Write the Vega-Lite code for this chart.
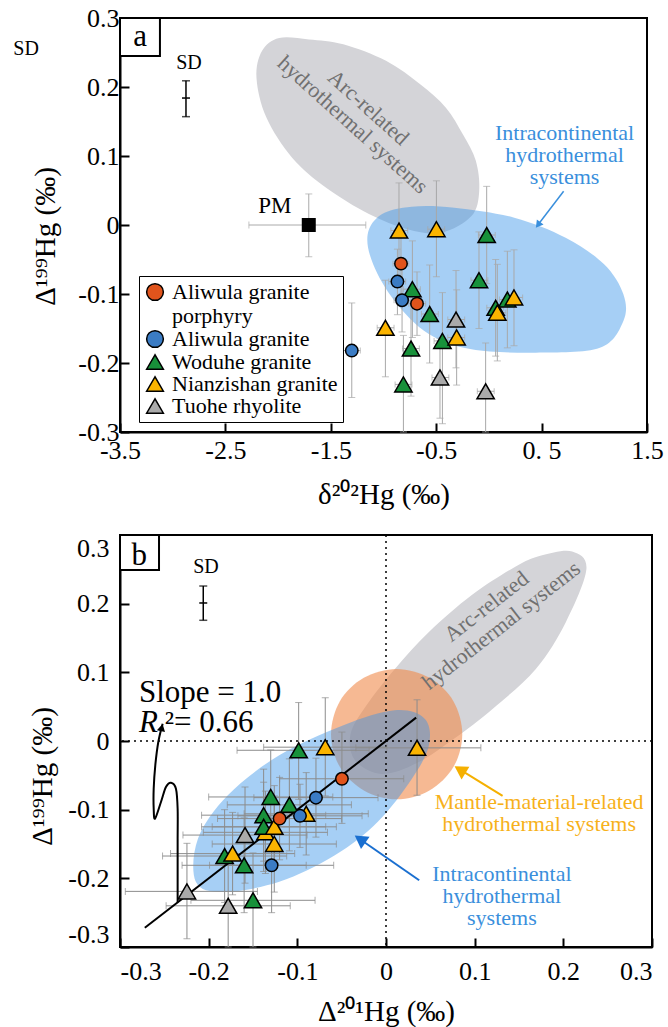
{
"$schema": "https://vega.github.io/schema/vega-lite/v6.json",
"background": "white",
"padding": {"left": 12, "top": 4, "right": 0, "bottom": 0},
"spacing": 23,
"config": {
  "font": "Liberation Serif",
  "view": {"stroke": "black", "strokeWidth": 2},
  "axis": {"grid": false, "labelFont": "Liberation Serif", "labelFontSize": 26, "labelColor": "black", "titleFont": "Liberation Serif", "titleFontSize": 29, "titleFontWeight": "normal", "titleColor": "black", "domainColor": "black", "domainWidth": 2, "tickColor": "black", "tickWidth": 2, "tickSize": -9},
  "text": {"font": "Liberation Serif"}
},
"resolve": {"legend": {"color": "independent", "shape": "independent"}},
"datasets": {
  "ptsA": [
    {"g": "Woduhe granite", "x": -0.021, "y": -0.0145, "xlo": -0.10, "xhi": 0.06, "ylo": -0.085, "yhi": 0.056},
    {"g": "Woduhe granite", "x": -0.094, "y": -0.080, "xlo": -0.17, "xhi": -0.01, "ylo": -0.15, "yhi": -0.01},
    {"g": "Woduhe granite", "x": -0.726, "y": -0.093, "xlo": -0.81, "xhi": -0.65, "ylo": -0.163, "yhi": -0.023},
    {"g": "Woduhe granite", "x": -0.562, "y": -0.129, "xlo": -0.64, "xhi": -0.48, "ylo": -0.20, "yhi": -0.058},
    {"g": "Woduhe granite", "x": -0.441, "y": -0.168, "xlo": -0.52, "xhi": -0.36, "ylo": -0.288, "yhi": -0.098},
    {"g": "Woduhe granite", "x": -0.739, "y": -0.179, "xlo": -0.82, "xhi": -0.66, "ylo": -0.248, "yhi": -0.11},
    {"g": "Woduhe granite", "x": -0.811, "y": -0.231, "xlo": -0.89, "xhi": -0.73, "ylo": -0.30, "yhi": -0.16},
    {"g": "Woduhe granite", "x": 0.175, "y": -0.108, "xlo": 0.10, "xhi": 0.25, "ylo": -0.178, "yhi": -0.038},
    {"g": "Woduhe granite", "x": 0.064, "y": -0.12, "xlo": -0.02, "xhi": 0.14, "ylo": -0.19, "yhi": -0.05},
    {"g": "Nianzishan granite", "x": -0.853, "y": -0.008, "xlo": -0.93, "xhi": -0.77, "ylo": -0.077, "yhi": 0.061},
    {"g": "Nianzishan granite", "x": -0.498, "y": -0.006, "xlo": -0.58, "xhi": -0.42, "ylo": -0.075, "yhi": 0.064},
    {"g": "Nianzishan granite", "x": -0.982, "y": -0.149, "xlo": -1.06, "xhi": -0.90, "ylo": -0.22, "yhi": -0.08},
    {"g": "Nianzishan granite", "x": -0.306, "y": -0.163, "xlo": -0.39, "xhi": -0.23, "ylo": -0.232, "yhi": -0.094},
    {"g": "Nianzishan granite", "x": 0.080, "y": -0.127, "xlo": 0.00, "xhi": 0.16, "ylo": -0.197, "yhi": -0.057},
    {"g": "Nianzishan granite", "x": 0.238, "y": -0.105, "xlo": 0.16, "xhi": 0.32, "ylo": -0.175, "yhi": -0.036},
    {"g": "Tuohe rhyolite", "x": -0.312, "y": -0.137, "xlo": -0.39, "xhi": -0.23, "ylo": -0.207, "yhi": -0.066},
    {"g": "Tuohe rhyolite", "x": -0.464, "y": -0.221, "xlo": -0.54, "xhi": -0.38, "ylo": -0.28, "yhi": -0.164},
    {"g": "Tuohe rhyolite", "x": -0.031, "y": -0.241, "xlo": -0.11, "xhi": 0.05, "ylo": -0.30, "yhi": -0.171},
    {"g": "Aliwula granite porphyry", "x": -0.834, "y": -0.056, "xlo": -0.91, "xhi": -0.76, "ylo": -0.10, "yhi": -0.012},
    {"g": "Aliwula granite porphyry", "x": -0.682, "y": -0.114, "xlo": -0.76, "xhi": -0.60, "ylo": -0.16, "yhi": -0.068},
    {"g": "Aliwula granite", "x": -0.868, "y": -0.082, "xlo": -0.95, "xhi": -0.79, "ylo": -0.13, "yhi": -0.035},
    {"g": "Aliwula granite", "x": -0.824, "y": -0.109, "xlo": -0.90, "xhi": -0.74, "ylo": -0.155, "yhi": -0.06},
    {"g": "Aliwula granite", "x": -1.301, "y": -0.182, "xlo": -1.38, "xhi": -1.22, "ylo": -0.25, "yhi": -0.113}
  ],
  "ptsB": [
    {"g": "Nianzishan granite", "x": -0.136, "y": -0.133, "xlo": -0.206, "xhi": -0.066, "ylo": -0.193, "yhi": -0.073},
    {"g": "Woduhe granite", "x": -0.0985, "y": -0.0135, "xlo": -0.168, "xhi": -0.019, "ylo": -0.085, "yhi": 0.056},
    {"g": "Woduhe granite", "x": -0.130, "y": -0.0815, "xlo": -0.20, "xhi": -0.06, "ylo": -0.15, "yhi": -0.013},
    {"g": "Woduhe granite", "x": -0.109, "y": -0.093, "xlo": -0.179, "xhi": -0.039, "ylo": -0.16, "yhi": -0.026},
    {"g": "Woduhe granite", "x": -0.138, "y": -0.108, "xlo": -0.208, "xhi": -0.068, "ylo": -0.175, "yhi": -0.041},
    {"g": "Woduhe granite", "x": -0.138, "y": -0.125, "xlo": -0.208, "xhi": -0.068, "ylo": -0.19, "yhi": -0.06},
    {"g": "Woduhe granite", "x": -0.182, "y": -0.1675, "xlo": -0.252, "xhi": -0.112, "ylo": -0.235, "yhi": -0.10},
    {"g": "Woduhe granite", "x": -0.160, "y": -0.181, "xlo": -0.23, "xhi": -0.09, "ylo": -0.25, "yhi": -0.112},
    {"g": "Woduhe granite", "x": -0.150, "y": -0.232, "xlo": -0.22, "xhi": -0.08, "ylo": -0.30, "yhi": -0.163},
    {"g": "Nianzishan granite", "x": -0.0685, "y": -0.009, "xlo": -0.138, "xhi": 0.001, "ylo": -0.08, "yhi": 0.063},
    {"g": "Nianzishan granite", "x": 0.035, "y": -0.010, "xlo": -0.034, "xhi": 0.107, "ylo": -0.079, "yhi": 0.060},
    {"g": "Nianzishan granite", "x": -0.090, "y": -0.106, "xlo": -0.16, "xhi": -0.02, "ylo": -0.166, "yhi": -0.046},
    {"g": "Nianzishan granite", "x": -0.126, "y": -0.125, "xlo": -0.196, "xhi": -0.056, "ylo": -0.185, "yhi": -0.065},
    {"g": "Nianzishan granite", "x": -0.126, "y": -0.150, "xlo": -0.196, "xhi": -0.056, "ylo": -0.22, "yhi": -0.08},
    {"g": "Nianzishan granite", "x": -0.173, "y": -0.164, "xlo": -0.243, "xhi": -0.103, "ylo": -0.224, "yhi": -0.104},
    {"g": "Tuohe rhyolite", "x": -0.159, "y": -0.137, "xlo": -0.229, "xhi": -0.089, "ylo": -0.207, "yhi": -0.067},
    {"g": "Tuohe rhyolite", "x": -0.2245, "y": -0.219, "xlo": -0.294, "xhi": -0.145, "ylo": -0.288, "yhi": -0.149},
    {"g": "Tuohe rhyolite", "x": -0.178, "y": -0.240, "xlo": -0.248, "xhi": -0.108, "ylo": -0.30, "yhi": -0.17},
    {"g": "Aliwula granite porphyry", "x": -0.0497, "y": -0.055, "xlo": -0.12, "xhi": 0.02, "ylo": -0.12, "yhi": 0.013},
    {"g": "Aliwula granite porphyry", "x": -0.120, "y": -0.113, "xlo": -0.19, "xhi": -0.05, "ylo": -0.173, "yhi": -0.053},
    {"g": "Aliwula granite", "x": -0.079, "y": -0.0825, "xlo": -0.149, "xhi": -0.009, "ylo": -0.14, "yhi": -0.025},
    {"g": "Aliwula granite", "x": -0.097, "y": -0.109, "xlo": -0.167, "xhi": -0.027, "ylo": -0.155, "yhi": -0.063},
    {"g": "Aliwula granite", "x": -0.129, "y": -0.181, "xlo": -0.199, "xhi": -0.059, "ylo": -0.25, "yhi": -0.112}
  ]
},
"vconcat": [
{
  "width": 527, "height": 414,
  "layer": [
    {
      "data": {"values": [
        {"i": 1, "x": -1.990, "y": 0.271}, {"i": 2, "x": -1.707, "y": 0.269}, {"i": 3, "x": -1.382, "y": 0.262},
        {"i": 4, "x": -0.976, "y": 0.238}, {"i": 5, "x": -0.652, "y": 0.204}, {"i": 6, "x": -0.408, "y": 0.170},
        {"i": 7, "x": -0.246, "y": 0.131}, {"i": 8, "x": -0.124, "y": 0.093}, {"i": 9, "x": -0.092, "y": 0.049},
        {"i": 10, "x": -0.165, "y": 0.013}, {"i": 11, "x": -0.449, "y": -0.011}, {"i": 12, "x": -0.773, "y": -0.006},
        {"i": 13, "x": -1.138, "y": 0.016}, {"i": 14, "x": -1.544, "y": 0.054}, {"i": 15, "x": -1.869, "y": 0.098},
        {"i": 16, "x": -2.112, "y": 0.156}, {"i": 17, "x": -2.205, "y": 0.213}, {"i": 18, "x": -2.153, "y": 0.252}
      ]},
      "mark": {"type": "line", "interpolate": "cardinal-closed", "color": "#d4d4d8", "fill": "#d4d4d8", "strokeWidth": 0},
      "encoding": {
        "x": {"field": "x", "type": "quantitative", "scale": {"domain": [-3.5, 1.5], "nice": false, "zero": false},
              "axis": {"title": "δ²⁰²Hg (‰)", "values": [-3.5, -2.5, -1.5, -0.5, 0.5, 1.5],
                       "labelExpr": "datum.value == 0.5 ? '0. 5' : replace(format(datum.value, '.1f'), '−', '-')",
                       "labelFlush": false, "labelPadding": 14, "titleY": 71, "titleBaseline": "alphabetic"}},
        "y": {"field": "y", "type": "quantitative", "scale": {"domain": [-0.3, 0.3], "nice": false, "zero": false},
              "axis": {"title": "Δ¹⁹⁹Hg (‰)", "values": [-0.3, -0.2, -0.1, 0, 0.1, 0.2, 0.3],
                       "labelExpr": "datum.value == 0 ? '0' : replace(format(datum.value, '.1f'), '−', '-')",
                       "labelPadding": 10, "titleX": -66, "titleY": 218, "titleBaseline": "alphabetic"}},
        "order": {"field": "i"}
      }
    },
    {
      "data": {"values": [
        {"i": 1, "x": -1.150, "y": -0.0135}, {"i": 2, "x": -1.017, "y": 0.0155}, {"i": 3, "x": -0.732, "y": 0.0266},
        {"i": 4, "x": -0.327, "y": 0.0251}, {"i": 5, "x": 0.241, "y": 0.0106}, {"i": 6, "x": 0.728, "y": -0.0184},
        {"i": 7, "x": 1.093, "y": -0.057}, {"i": 8, "x": 1.276, "y": -0.1005}, {"i": 9, "x": 1.276, "y": -0.139},
        {"i": 10, "x": 1.053, "y": -0.178}, {"i": 11, "x": 0.444, "y": -0.185}, {"i": 12, "x": -0.165, "y": -0.180},
        {"i": 13, "x": -0.570, "y": -0.158}, {"i": 14, "x": -0.895, "y": -0.110}, {"i": 15, "x": -1.098, "y": -0.057}
      ]},
      "mark": {"type": "line", "interpolate": "cardinal-closed", "color": "#3a95e9", "fill": "#3a95e9", "fillOpacity": 0.45, "strokeWidth": 0},
      "encoding": {
        "x": {"field": "x", "type": "quantitative", "scale": {"domain": [-3.5, 1.5], "nice": false, "zero": false}},
        "y": {"field": "y", "type": "quantitative", "scale": {"domain": [-0.3, 0.3], "nice": false, "zero": false}},
        "order": {"field": "i"}
      }
    },
    {
      "data": {"name": "ptsA"},
      "mark": {"type": "errorbar", "ticks": {"size": 7}, "color": "#a8a8a8", "thickness": 1},
      "encoding": {
        "x": {"field": "x", "type": "quantitative", "title": "δ²⁰²Hg (‰)", "scale": {"domain": [-3.5, 1.5], "nice": false, "zero": false}},
        "y": {"field": "ylo", "type": "quantitative", "title": "Δ¹⁹⁹Hg (‰)", "scale": {"domain": [-0.3, 0.3], "nice": false, "zero": false}},
        "y2": {"field": "yhi"}
      }
    },
    {
      "data": {"name": "ptsA"},
      "mark": {"type": "errorbar", "ticks": {"size": 6}, "color": "#a8a8a8", "thickness": 1},
      "encoding": {
        "y": {"field": "y", "type": "quantitative", "title": "Δ¹⁹⁹Hg (‰)", "scale": {"domain": [-0.3, 0.3], "nice": false, "zero": false}},
        "x": {"field": "xlo", "type": "quantitative", "title": "δ²⁰²Hg (‰)", "scale": {"domain": [-3.5, 1.5], "nice": false, "zero": false}},
        "x2": {"field": "xhi"}
      }
    },
    {
      "data": {"values": [{"x": -1.709, "y": 0, "xlo": -2.277, "xhi": -1.168, "ylo": -0.046, "yhi": 0.045}]},
      "layer": [
        {"mark": {"type": "errorbar", "ticks": {"size": 7}, "color": "#aaaaaa", "thickness": 1},
         "encoding": {
           "x": {"field": "x", "type": "quantitative", "title": "δ²⁰²Hg (‰)", "scale": {"domain": [-3.5, 1.5], "nice": false, "zero": false}},
           "y": {"field": "ylo", "type": "quantitative", "title": "Δ¹⁹⁹Hg (‰)", "scale": {"domain": [-0.3, 0.3], "nice": false, "zero": false}},
           "y2": {"field": "yhi"}}},
        {"mark": {"type": "errorbar", "ticks": {"size": 7}, "color": "#aaaaaa", "thickness": 1},
         "encoding": {
           "y": {"field": "y", "type": "quantitative", "title": "Δ¹⁹⁹Hg (‰)", "scale": {"domain": [-0.3, 0.3], "nice": false, "zero": false}},
           "x": {"field": "xlo", "type": "quantitative", "title": "δ²⁰²Hg (‰)", "scale": {"domain": [-3.5, 1.5], "nice": false, "zero": false}},
           "x2": {"field": "xhi"}}},
        {"mark": {"type": "point", "shape": "square", "filled": true, "color": "black", "size": 196, "opacity": 1},
         "encoding": {
           "x": {"field": "x", "type": "quantitative", "scale": {"domain": [-3.5, 1.5], "nice": false, "zero": false}},
           "y": {"field": "y", "type": "quantitative", "scale": {"domain": [-0.3, 0.3], "nice": false, "zero": false}}}}
      ]
    },
    {
      "data": {"values": [{"x": -2.874, "y": 0.184, "xlo": -2.912, "xhi": -2.836, "ylo": 0.157, "yhi": 0.209}]},
      "layer": [
        {"mark": {"type": "errorbar", "ticks": {"size": 8}, "color": "black", "thickness": 1.5},
         "encoding": {
           "x": {"field": "x", "type": "quantitative", "title": "δ²⁰²Hg (‰)", "scale": {"domain": [-3.5, 1.5], "nice": false, "zero": false}},
           "y": {"field": "ylo", "type": "quantitative", "title": "Δ¹⁹⁹Hg (‰)", "scale": {"domain": [-0.3, 0.3], "nice": false, "zero": false}},
           "y2": {"field": "yhi"}}},
        {"mark": {"type": "rule", "color": "black", "strokeWidth": 1.5},
         "encoding": {
           "y": {"field": "y", "type": "quantitative", "scale": {"domain": [-0.3, 0.3], "nice": false, "zero": false}},
           "x": {"field": "xlo", "type": "quantitative", "scale": {"domain": [-3.5, 1.5], "nice": false, "zero": false}},
           "x2": {"field": "xhi"}}}
      ]
    },
    {
      "data": {"name": "ptsA"},
      "transform": [{"filter": "datum.g != 'Aliwula granite' && datum.g != 'Aliwula granite porphyry'"}],
      "mark": {"type": "point", "filled": true, "stroke": "black", "strokeWidth": 1.5, "size": 300, "opacity": 1},
      "encoding": {
        "x": {"field": "x", "type": "quantitative", "scale": {"domain": [-3.5, 1.5], "nice": false, "zero": false}},
        "y": {"field": "y", "type": "quantitative", "scale": {"domain": [-0.3, 0.3], "nice": false, "zero": false}},
        "color": {"field": "g", "type": "nominal",
                  "scale": {"domain": ["Aliwula granite porphyry", "Aliwula granite", "Woduhe granite", "Nianzishan granite", "Tuohe rhyolite"],
                            "range": ["#e0541c", "#3b7cc4", "#18913a", "#fbb400", "#aaaaaa"]},
                  "legend": {"title": null, "orient": "none", "legendX": 19, "legendY": 258,
                             "labelExpr": "datum.label == 'Aliwula granite porphyry' ? ['Aliwula granite', '\u00a0\u00a0\u00a0porphyry'] : datum.label",
                             "strokeColor": "black", "padding": 5, "rowPadding": 0, "symbolSize": 280,
                             "labelFont": "Liberation Serif", "labelFontSize": 22, "labelColor": "black", "labelLimit": 300,
                             "symbolStrokeColor": "black", "symbolStrokeWidth": 1.5, "labelOffset": 6}},
        "shape": {"field": "g", "type": "nominal",
                  "scale": {"domain": ["Aliwula granite porphyry", "Aliwula granite", "Woduhe granite", "Nianzishan granite", "Tuohe rhyolite"],
                            "range": ["circle", "circle", "triangle-up", "triangle-up", "triangle-up"]},
                  "legend": {"title": null, "orient": "none", "legendX": 19, "legendY": 258,
                             "labelExpr": "datum.label == 'Aliwula granite porphyry' ? ['Aliwula granite', '\u00a0\u00a0\u00a0porphyry'] : datum.label",
                             "strokeColor": "black", "padding": 5, "rowPadding": 0, "symbolSize": 280,
                             "labelFont": "Liberation Serif", "labelFontSize": 22, "labelColor": "black", "labelLimit": 300,
                             "symbolStrokeColor": "black", "symbolStrokeWidth": 1.5, "labelOffset": 6}}
      }
    },
    {
      "data": {"name": "ptsA"},
      "transform": [{"filter": "datum.g == 'Aliwula granite' || datum.g == 'Aliwula granite porphyry'"}],
      "mark": {"type": "point", "filled": true, "stroke": "black", "strokeWidth": 1.5, "size": 155, "opacity": 1},
      "encoding": {
        "x": {"field": "x", "type": "quantitative", "scale": {"domain": [-3.5, 1.5], "nice": false, "zero": false}},
        "y": {"field": "y", "type": "quantitative", "scale": {"domain": [-0.3, 0.3], "nice": false, "zero": false}},
        "color": {"field": "g", "type": "nominal",
                  "scale": {"domain": ["Aliwula granite porphyry", "Aliwula granite", "Woduhe granite", "Nianzishan granite", "Tuohe rhyolite"],
                            "range": ["#e0541c", "#3b7cc4", "#18913a", "#fbb400", "#aaaaaa"]},
                  "legend": {"title": null, "orient": "none", "legendX": 19, "legendY": 258,
                             "labelExpr": "datum.label == 'Aliwula granite porphyry' ? ['Aliwula granite', '\u00a0\u00a0\u00a0porphyry'] : datum.label",
                             "strokeColor": "black", "padding": 5, "rowPadding": 0, "symbolSize": 280,
                             "labelFont": "Liberation Serif", "labelFontSize": 22, "labelColor": "black", "labelLimit": 300,
                             "symbolStrokeColor": "black", "symbolStrokeWidth": 1.5, "labelOffset": 6}},
        "shape": {"field": "g", "type": "nominal",
                  "scale": {"domain": ["Aliwula granite porphyry", "Aliwula granite", "Woduhe granite", "Nianzishan granite", "Tuohe rhyolite"],
                            "range": ["circle", "circle", "triangle-up", "triangle-up", "triangle-up"]},
                  "legend": {"title": null, "orient": "none", "legendX": 19, "legendY": 258,
                             "labelExpr": "datum.label == 'Aliwula granite porphyry' ? ['Aliwula granite', '\u00a0\u00a0\u00a0porphyry'] : datum.label",
                             "strokeColor": "black", "padding": 5, "rowPadding": 0, "symbolSize": 280,
                             "labelFont": "Liberation Serif", "labelFontSize": 22, "labelColor": "black", "labelLimit": 300,
                             "symbolStrokeColor": "black", "symbolStrokeWidth": 1.5, "labelOffset": 6}}
      }
    },
    {
      "data": {"values": [{"x": -4.391, "y": 0.255, "t": "SD"}, {"x": -2.846, "y": 0.235, "t": "SD"}]},
      "mark": {"type": "text", "fontSize": 20, "color": "black", "font": "Liberation Serif"},
      "encoding": {
        "x": {"field": "x", "type": "quantitative", "scale": {"domain": [-3.5, 1.5], "nice": false, "zero": false}},
        "y": {"field": "y", "type": "quantitative", "scale": {"domain": [-0.3, 0.3], "nice": false, "zero": false}},
        "text": {"field": "t"}
      }
    },
    {
      "data": {"values": [{"x": -2.031, "y": 0.0275, "t": "PM"}]},
      "mark": {"type": "text", "fontSize": 23, "color": "black", "font": "Liberation Serif"},
      "encoding": {
        "x": {"field": "x", "type": "quantitative", "scale": {"domain": [-3.5, 1.5], "nice": false, "zero": false}},
        "y": {"field": "y", "type": "quantitative", "scale": {"domain": [-0.3, 0.3], "nice": false, "zero": false}},
        "text": {"field": "t"}
      }
    },
    {
      "data": {"values": [{"x": 0.718, "y": 0.1329, "t": "Intracontinental\nhydrothermal\nsystems"}]},
      "mark": {"type": "text", "fontSize": 22, "color": "#3a8fdc", "font": "Liberation Serif", "lineBreak": "\n", "lineHeight": 22},
      "encoding": {
        "x": {"field": "x", "type": "quantitative", "scale": {"domain": [-3.5, 1.5], "nice": false, "zero": false}},
        "y": {"field": "y", "type": "quantitative", "scale": {"domain": [-0.3, 0.3], "nice": false, "zero": false}},
        "text": {"field": "t"}
      }
    },
    {
      "data": {"values": [{"x": -1.144, "y": 0.1701, "t": "Arc-related\nhydrothermal systems"}]},
      "mark": {"type": "text", "fontSize": 22, "color": "#707070", "font": "Liberation Serif", "lineBreak": "\n", "lineHeight": 23, "angle": 42},
      "encoding": {
        "x": {"field": "x", "type": "quantitative", "scale": {"domain": [-3.5, 1.5], "nice": false, "zero": false}},
        "y": {"field": "y", "type": "quantitative", "scale": {"domain": [-0.3, 0.3], "nice": false, "zero": false}},
        "text": {"field": "t"}
      }
    },
    {
      "data": {"values": [{"x": 0.709, "y": 0.049, "x2": 0.466, "y2": 0.0003}]},
      "layer": [
        {"mark": {"type": "rule", "color": "#3a8fdc", "strokeWidth": 1.5},
         "encoding": {
           "x": {"field": "x", "type": "quantitative", "scale": {"domain": [-3.5, 1.5], "nice": false, "zero": false}},
           "y": {"field": "y", "type": "quantitative", "scale": {"domain": [-0.3, 0.3], "nice": false, "zero": false}},
           "x2": {"field": "x2"}, "y2": {"field": "y2"}}},
        {"mark": {"type": "point", "shape": "triangle-up", "filled": true, "color": "#3a8fdc", "size": 70, "angle": 217, "opacity": 1},
         "encoding": {
           "x": {"field": "x2", "type": "quantitative", "scale": {"domain": [-3.5, 1.5], "nice": false, "zero": false}},
           "y": {"field": "y2", "type": "quantitative", "scale": {"domain": [-0.3, 0.3], "nice": false, "zero": false}}}}
      ]
    },
    {
      "data": {"values": [{"x": -3.5, "x2": -3.121, "y": 0.245, "y2": 0.3, "t": "a", "tx": -3.31, "ty": 0.2594}]},
      "layer": [
        {"mark": {"type": "rect", "fill": "white", "stroke": "black", "strokeWidth": 2},
         "encoding": {
           "x": {"field": "x", "type": "quantitative", "scale": {"domain": [-3.5, 1.5], "nice": false, "zero": false}},
           "y": {"field": "y", "type": "quantitative", "scale": {"domain": [-0.3, 0.3], "nice": false, "zero": false}},
           "x2": {"field": "x2"}, "y2": {"field": "y2"}}},
        {"mark": {"type": "text", "fontSize": 31, "color": "black", "font": "Liberation Serif", "baseline": "alphabetic"},
         "encoding": {
           "x": {"field": "tx", "type": "quantitative", "scale": {"domain": [-3.5, 1.5], "nice": false, "zero": false}},
           "y": {"field": "ty", "type": "quantitative", "scale": {"domain": [-0.3, 0.3], "nice": false, "zero": false}},
           "text": {"field": "t"}}}
      ]
    }
  ]
},
{
  "width": 532, "height": 412,
  "layer": [
    {
      "data": {"values": [
        {"i": 1, "x": 0.175, "y": 0.270}, {"i": 2, "x": 0.210, "y": 0.276}, {"i": 3, "x": 0.226, "y": 0.250},
        {"i": 4, "x": 0.2028, "y": 0.173}, {"i": 5, "x": 0.169, "y": 0.105}, {"i": 6, "x": 0.1205, "y": 0.047},
        {"i": 7, "x": 0.0775, "y": 0.004}, {"i": 8, "x": 0.035, "y": -0.032}, {"i": 9, "x": -0.005, "y": -0.048},
        {"i": 10, "x": -0.035, "y": -0.028}, {"i": 11, "x": -0.040, "y": 0.010}, {"i": 12, "x": -0.022, "y": 0.052},
        {"i": 13, "x": 0.010, "y": 0.105}, {"i": 14, "x": 0.0484, "y": 0.1587}, {"i": 15, "x": 0.0968, "y": 0.2126},
        {"i": 16, "x": 0.1453, "y": 0.2534}
      ]},
      "mark": {"type": "line", "interpolate": "cardinal-closed", "color": "#d4d4d8", "fill": "#d4d4d8", "strokeWidth": 0},
      "encoding": {
        "x": {"field": "x", "type": "quantitative", "scale": {"domain": [-0.3, 0.3], "nice": false, "zero": false},
              "axis": {"title": "Δ²⁰¹Hg (‰)", "values": [-0.3, -0.2, -0.1, 0, 0.1, 0.2, 0.3],
                       "labelExpr": "datum.value == 0 ? '0' : replace(format(datum.value, '.1f'), '−', '-')",
                       "labelPadding": 20, "titleY": 73, "titleBaseline": "alphabetic"}},
        "y": {"field": "y", "type": "quantitative", "scale": {"domain": [-0.3, 0.3], "nice": false, "zero": false},
              "axis": {"title": "Δ¹⁹⁹Hg (‰)", "values": [-0.3, -0.2, -0.1, 0, 0.1, 0.2, 0.3],
                       "labelExpr": "datum.value == 0 ? '0' : replace(format(datum.value, '.1f'), '−', '-')",
                       "labelPadding": 20, "labelFlush": true, "titleX": -69, "titleY": 241, "titleBaseline": "alphabetic"}},
        "order": {"field": "i"}
      }
    },
    {
      "data": {"values": [
        {"i": 1, "x": 0.086, "y": 0.010}, {"i": 2, "x": 0.076, "y": 0.058}, {"i": 3, "x": 0.049, "y": 0.092},
        {"i": 4, "x": 0.012, "y": 0.105}, {"i": 5, "x": -0.025, "y": 0.092}, {"i": 6, "x": -0.052, "y": 0.058},
        {"i": 7, "x": -0.062, "y": 0.010}, {"i": 8, "x": -0.052, "y": -0.038}, {"i": 9, "x": -0.025, "y": -0.072},
        {"i": 10, "x": 0.012, "y": -0.085}, {"i": 11, "x": 0.049, "y": -0.072}, {"i": 12, "x": 0.076, "y": -0.038}
      ]},
      "mark": {"type": "line", "interpolate": "cardinal-closed", "color": "#f08a4b", "fill": "#f08a4b", "fillOpacity": 0.6, "strokeWidth": 0},
      "encoding": {
        "x": {"field": "x", "type": "quantitative", "scale": {"domain": [-0.3, 0.3], "nice": false, "zero": false}},
        "y": {"field": "y", "type": "quantitative", "scale": {"domain": [-0.3, 0.3], "nice": false, "zero": false}},
        "order": {"field": "i"}
      }
    },
    {
      "data": {"values": [
        {"i": 1, "x": 0.0436, "y": 0.0325}, {"i": 2, "x": 0.0098, "y": 0.0447}, {"i": 3, "x": -0.048, "y": 0.023},
        {"i": 4, "x": -0.1204, "y": -0.0208}, {"i": 5, "x": -0.1784, "y": -0.079}, {"i": 6, "x": -0.212, "y": -0.142},
        {"i": 7, "x": -0.2145, "y": -0.205}, {"i": 8, "x": -0.1832, "y": -0.2199}, {"i": 9, "x": -0.1204, "y": -0.205},
        {"i": 10, "x": -0.0577, "y": -0.1665}, {"i": 11, "x": -0.0095, "y": -0.118}, {"i": 12, "x": 0.0292, "y": -0.055},
        {"i": 13, "x": 0.0484, "y": -0.0063}
      ]},
      "mark": {"type": "line", "interpolate": "cardinal-closed", "color": "#3a95e9", "fill": "#3a95e9", "fillOpacity": 0.45, "strokeWidth": 0},
      "encoding": {
        "x": {"field": "x", "type": "quantitative", "scale": {"domain": [-0.3, 0.3], "nice": false, "zero": false}},
        "y": {"field": "y", "type": "quantitative", "scale": {"domain": [-0.3, 0.3], "nice": false, "zero": false}},
        "order": {"field": "i"}
      }
    },
    {
      "data": {"values": [{"v": 0}]},
      "mark": {"type": "rule", "color": "black", "strokeWidth": 1.5, "strokeDash": [2, 4]},
      "encoding": {"x": {"field": "v", "type": "quantitative", "scale": {"domain": [-0.3, 0.3], "nice": false, "zero": false}}}
    },
    {
      "data": {"values": [{"v": 0}]},
      "mark": {"type": "rule", "color": "black", "strokeWidth": 1.5, "strokeDash": [2, 4]},
      "encoding": {"y": {"field": "v", "type": "quantitative", "scale": {"domain": [-0.3, 0.3], "nice": false, "zero": false}}}
    },
    {
      "data": {"name": "ptsB"},
      "mark": {"type": "errorbar", "ticks": {"size": 7}, "color": "#8c8c8c", "thickness": 1},
      "encoding": {
        "x": {"field": "x", "type": "quantitative", "title": "Δ²⁰¹Hg (‰)", "scale": {"domain": [-0.3, 0.3], "nice": false, "zero": false}},
        "y": {"field": "ylo", "type": "quantitative", "title": "Δ¹⁹⁹Hg (‰)", "scale": {"domain": [-0.3, 0.3], "nice": false, "zero": false}},
        "y2": {"field": "yhi"}
      }
    },
    {
      "data": {"name": "ptsB"},
      "mark": {"type": "errorbar", "ticks": {"size": 7}, "color": "#8c8c8c", "thickness": 1},
      "encoding": {
        "y": {"field": "y", "type": "quantitative", "title": "Δ¹⁹⁹Hg (‰)", "scale": {"domain": [-0.3, 0.3], "nice": false, "zero": false}},
        "x": {"field": "xlo", "type": "quantitative", "title": "Δ²⁰¹Hg (‰)", "scale": {"domain": [-0.3, 0.3], "nice": false, "zero": false}},
        "x2": {"field": "xhi"}
      }
    },
    {
      "data": {"values": [{"x": -0.2061, "y": 0.201, "xlo": -0.2106, "xhi": -0.2016, "ylo": 0.1758, "yhi": 0.2257}]},
      "layer": [
        {"mark": {"type": "errorbar", "ticks": {"size": 8}, "color": "black", "thickness": 1.5},
         "encoding": {
           "x": {"field": "x", "type": "quantitative", "title": "Δ²⁰¹Hg (‰)", "scale": {"domain": [-0.3, 0.3], "nice": false, "zero": false}},
           "y": {"field": "ylo", "type": "quantitative", "title": "Δ¹⁹⁹Hg (‰)", "scale": {"domain": [-0.3, 0.3], "nice": false, "zero": false}},
           "y2": {"field": "yhi"}}},
        {"mark": {"type": "rule", "color": "black", "strokeWidth": 1.5},
         "encoding": {
           "y": {"field": "y", "type": "quantitative", "scale": {"domain": [-0.3, 0.3], "nice": false, "zero": false}},
           "x": {"field": "xlo", "type": "quantitative", "scale": {"domain": [-0.3, 0.3], "nice": false, "zero": false}},
           "x2": {"field": "xhi"}}}
      ]
    },
    {
      "data": {"values": [{"i": 1, "x": -0.272, "y": -0.272}, {"i": 2, "x": 0.034, "y": 0.034}]},
      "mark": {"type": "line", "color": "black", "strokeWidth": 2},
      "encoding": {
        "x": {"field": "x", "type": "quantitative", "scale": {"domain": [-0.3, 0.3], "nice": false, "zero": false}},
        "y": {"field": "y", "type": "quantitative", "scale": {"domain": [-0.3, 0.3], "nice": false, "zero": false}},
        "order": {"field": "i"}
      }
    },
    {
      "data": {"name": "ptsB"},
      "transform": [{"filter": "datum.g != 'Aliwula granite' && datum.g != 'Aliwula granite porphyry'"}],
      "mark": {"type": "point", "filled": true, "stroke": "black", "strokeWidth": 1.5, "size": 300, "opacity": 1},
      "encoding": {
        "x": {"field": "x", "type": "quantitative", "scale": {"domain": [-0.3, 0.3], "nice": false, "zero": false}},
        "y": {"field": "y", "type": "quantitative", "scale": {"domain": [-0.3, 0.3], "nice": false, "zero": false}},
        "color": {"field": "g", "type": "nominal",
                  "scale": {"domain": ["Aliwula granite porphyry", "Aliwula granite", "Woduhe granite", "Nianzishan granite", "Tuohe rhyolite"],
                            "range": ["#e0541c", "#3b7cc4", "#18913a", "#fbb400", "#aaaaaa"]}, "legend": null},
        "shape": {"field": "g", "type": "nominal",
                  "scale": {"domain": ["Aliwula granite porphyry", "Aliwula granite", "Woduhe granite", "Nianzishan granite", "Tuohe rhyolite"],
                            "range": ["circle", "circle", "triangle-up", "triangle-up", "triangle-up"]}, "legend": null}
      }
    },
    {
      "data": {"name": "ptsB"},
      "transform": [{"filter": "datum.g == 'Aliwula granite' || datum.g == 'Aliwula granite porphyry'"}],
      "mark": {"type": "point", "filled": true, "stroke": "black", "strokeWidth": 1.5, "size": 155, "opacity": 1},
      "encoding": {
        "x": {"field": "x", "type": "quantitative", "scale": {"domain": [-0.3, 0.3], "nice": false, "zero": false}},
        "y": {"field": "y", "type": "quantitative", "scale": {"domain": [-0.3, 0.3], "nice": false, "zero": false}},
        "color": {"field": "g", "type": "nominal",
                  "scale": {"domain": ["Aliwula granite porphyry", "Aliwula granite", "Woduhe granite", "Nianzishan granite", "Tuohe rhyolite"],
                            "range": ["#e0541c", "#3b7cc4", "#18913a", "#fbb400", "#aaaaaa"]}, "legend": null},
        "shape": {"field": "g", "type": "nominal",
                  "scale": {"domain": ["Aliwula granite porphyry", "Aliwula granite", "Woduhe granite", "Nianzishan granite", "Tuohe rhyolite"],
                            "range": ["circle", "circle", "triangle-up", "triangle-up", "triangle-up"]}, "legend": null}
      }
    },
    {
      "data": {"values": [
        {"i": 1, "x": -0.2519, "y": 0.0252}, {"i": 2, "x": -0.2568, "y": -0.0014}, {"i": 3, "x": -0.2602, "y": -0.0354},
        {"i": 4, "x": -0.2620, "y": -0.0694}, {"i": 5, "x": -0.2620, "y": -0.0986}, {"i": 6, "x": -0.2605, "y": -0.1131},
        {"i": 7, "x": -0.2538, "y": -0.0888}, {"i": 8, "x": -0.2482, "y": -0.0670}, {"i": 9, "x": -0.2425, "y": -0.0607},
        {"i": 10, "x": -0.2369, "y": -0.0694}, {"i": 11, "x": -0.2350, "y": -0.0986}, {"i": 12, "x": -0.2350, "y": -0.1423},
        {"i": 13, "x": -0.2350, "y": -0.1908}, {"i": 14, "x": -0.2350, "y": -0.2350}
      ]},
      "mark": {"type": "line", "color": "black", "strokeWidth": 2, "interpolate": "cardinal"},
      "encoding": {
        "x": {"field": "x", "type": "quantitative", "scale": {"domain": [-0.3, 0.3], "nice": false, "zero": false}},
        "y": {"field": "y", "type": "quantitative", "scale": {"domain": [-0.3, 0.3], "nice": false, "zero": false}},
        "order": {"field": "i"}
      }
    },
    {
      "data": {"values": [{"x": -0.2529, "y": 0.0195}]},
      "mark": {"type": "point", "shape": "triangle-up", "filled": true, "color": "black", "size": 70, "angle": 13, "opacity": 1},
      "encoding": {
        "x": {"field": "x", "type": "quantitative", "scale": {"domain": [-0.3, 0.3], "nice": false, "zero": false}},
        "y": {"field": "y", "type": "quantitative", "scale": {"domain": [-0.3, 0.3], "nice": false, "zero": false}}
      }
    },
    {
      "data": {"values": [{"x": 0.0374, "y": -0.2028, "x2": -0.0293, "y2": -0.1431}]},
      "layer": [
        {"mark": {"type": "rule", "color": "#1a6fd0", "strokeWidth": 2},
         "encoding": {
           "x": {"field": "x", "type": "quantitative", "scale": {"domain": [-0.3, 0.3], "nice": false, "zero": false}},
           "y": {"field": "y", "type": "quantitative", "scale": {"domain": [-0.3, 0.3], "nice": false, "zero": false}},
           "x2": {"field": "x2"}, "y2": {"field": "y2"}}},
        {"mark": {"type": "point", "shape": "triangle-up", "filled": true, "color": "#1a6fd0", "size": 220, "angle": 305, "opacity": 1},
         "encoding": {
           "x": {"field": "x2", "type": "quantitative", "scale": {"domain": [-0.3, 0.3], "nice": false, "zero": false}},
           "y": {"field": "y2", "type": "quantitative", "scale": {"domain": [-0.3, 0.3], "nice": false, "zero": false}}}}
      ]
    },
    {
      "data": {"values": [{"x": 0.1315, "y": -0.080, "x2": 0.0835, "y2": -0.0418}]},
      "layer": [
        {"mark": {"type": "rule", "color": "#f5b000", "strokeWidth": 2},
         "encoding": {
           "x": {"field": "x", "type": "quantitative", "scale": {"domain": [-0.3, 0.3], "nice": false, "zero": false}},
           "y": {"field": "y", "type": "quantitative", "scale": {"domain": [-0.3, 0.3], "nice": false, "zero": false}},
           "x2": {"field": "x2"}, "y2": {"field": "y2"}}},
        {"mark": {"type": "point", "shape": "triangle-up", "filled": true, "color": "#f5b000", "size": 220, "angle": 302, "opacity": 1},
         "encoding": {
           "x": {"field": "x2", "type": "quantitative", "scale": {"domain": [-0.3, 0.3], "nice": false, "zero": false}},
           "y": {"field": "y2", "type": "quantitative", "scale": {"domain": [-0.3, 0.3], "nice": false, "zero": false}}}}
      ]
    },
    {
      "data": {"values": [{"x": -0.203, "y": 0.2534, "t": "SD"}]},
      "mark": {"type": "text", "fontSize": 20, "color": "black", "font": "Liberation Serif"},
      "encoding": {
        "x": {"field": "x", "type": "quantitative", "scale": {"domain": [-0.3, 0.3], "nice": false, "zero": false}},
        "y": {"field": "y", "type": "quantitative", "scale": {"domain": [-0.3, 0.3], "nice": false, "zero": false}},
        "text": {"field": "t"}
      }
    },
    {
      "data": {"values": [{"x": -0.2786, "y": 0.0568, "t": "Slope = 1.0"}, {"x": -0.2495, "y": 0.0131, "t": "²= 0.66"}]},
      "mark": {"type": "text", "fontSize": 31, "color": "black", "font": "Liberation Serif", "align": "left", "baseline": "alphabetic"},
      "encoding": {
        "x": {"field": "x", "type": "quantitative", "scale": {"domain": [-0.3, 0.3], "nice": false, "zero": false}},
        "y": {"field": "y", "type": "quantitative", "scale": {"domain": [-0.3, 0.3], "nice": false, "zero": false}},
        "text": {"field": "t"}
      }
    },
    {
      "data": {"values": [{"x": -0.2786, "y": 0.0131, "t": "R"}]},
      "mark": {"type": "text", "fontSize": 31, "color": "black", "font": "Liberation Serif", "fontStyle": "italic", "align": "left", "baseline": "alphabetic"},
      "encoding": {
        "x": {"field": "x", "type": "quantitative", "scale": {"domain": [-0.3, 0.3], "nice": false, "zero": false}},
        "y": {"field": "y", "type": "quantitative", "scale": {"domain": [-0.3, 0.3], "nice": false, "zero": false}},
        "text": {"field": "t"}
      }
    },
    {
      "data": {"values": [{"x": 0.1727, "y": -0.0888, "t": "Mantle-material-related\nhydrothermal systems"}]},
      "mark": {"type": "text", "fontSize": 22, "color": "#f7b11a", "font": "Liberation Serif", "lineBreak": "\n", "lineHeight": 22},
      "encoding": {
        "x": {"field": "x", "type": "quantitative", "scale": {"domain": [-0.3, 0.3], "nice": false, "zero": false}},
        "y": {"field": "y", "type": "quantitative", "scale": {"domain": [-0.3, 0.3], "nice": false, "zero": false}},
        "text": {"field": "t"}
      }
    },
    {
      "data": {"values": [{"x": 0.1307, "y": -0.1941, "t": "Intracontinental\nhydrothermal\nsystems"}]},
      "mark": {"type": "text", "fontSize": 22, "color": "#3a8fdc", "font": "Liberation Serif", "lineBreak": "\n", "lineHeight": 22},
      "encoding": {
        "x": {"field": "x", "type": "quantitative", "scale": {"domain": [-0.3, 0.3], "nice": false, "zero": false}},
        "y": {"field": "y", "type": "quantitative", "scale": {"domain": [-0.3, 0.3], "nice": false, "zero": false}},
        "text": {"field": "t"}
      }
    },
    {
      "data": {"values": [{"x": 0.1133, "y": 0.1959, "t": "Arc-related\nhydrothermal systems"}]},
      "mark": {"type": "text", "fontSize": 22, "color": "#707070", "font": "Liberation Serif", "lineBreak": "\n", "lineHeight": 24, "angle": -38},
      "encoding": {
        "x": {"field": "x", "type": "quantitative", "scale": {"domain": [-0.3, 0.3], "nice": false, "zero": false}},
        "y": {"field": "y", "type": "quantitative", "scale": {"domain": [-0.3, 0.3], "nice": false, "zero": false}},
        "text": {"field": "t"}
      }
    },
    {
      "data": {"values": [{"x": -0.3, "x2": -0.256, "y": 0.249, "y2": 0.3, "t": "b", "tx": -0.2782, "ty": 0.2559}]},
      "layer": [
        {"mark": {"type": "rect", "fill": "white", "stroke": "black", "strokeWidth": 2},
         "encoding": {
           "x": {"field": "x", "type": "quantitative", "scale": {"domain": [-0.3, 0.3], "nice": false, "zero": false}},
           "y": {"field": "y", "type": "quantitative", "scale": {"domain": [-0.3, 0.3], "nice": false, "zero": false}},
           "x2": {"field": "x2"}, "y2": {"field": "y2"}}},
        {"mark": {"type": "text", "fontSize": 31, "color": "black", "font": "Liberation Serif", "baseline": "alphabetic"},
         "encoding": {
           "x": {"field": "tx", "type": "quantitative", "scale": {"domain": [-0.3, 0.3], "nice": false, "zero": false}},
           "y": {"field": "ty", "type": "quantitative", "scale": {"domain": [-0.3, 0.3], "nice": false, "zero": false}},
           "text": {"field": "t"}}}
      ]
    }
  ]
}
]
}
